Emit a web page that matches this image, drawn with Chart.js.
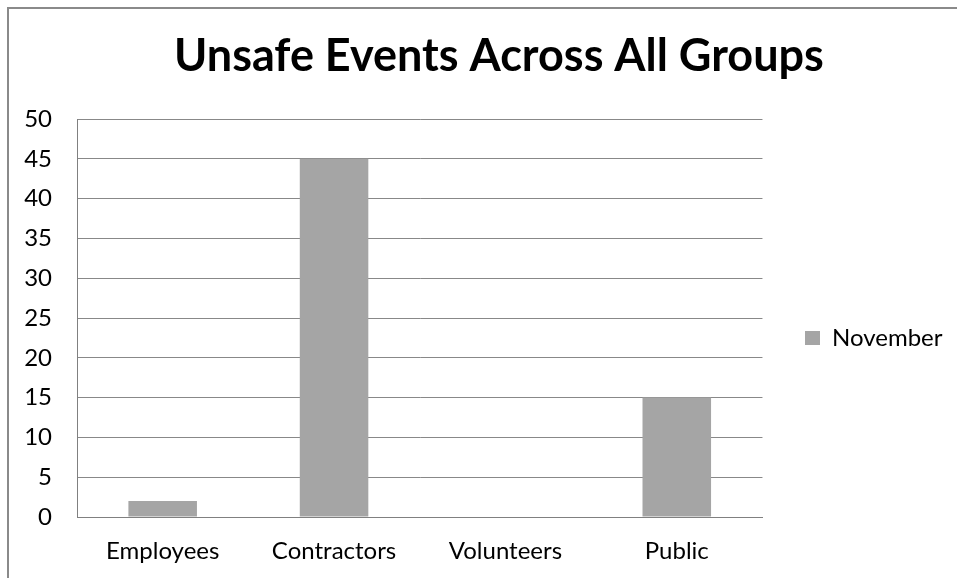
<!DOCTYPE html>
<html>
<head>
<meta charset="utf-8">
<title>Unsafe Events Across All Groups</title>
<script src="https://cdn.jsdelivr.net/npm/chart.js@4/dist/chart.umd.min.js"></script>
<style>
  html, body { margin: 0; padding: 0; background: #fff; overflow: hidden; }
  #frame {
    position: absolute; left: 7px; top: 7px; width: 1000px; height: 620px;
    border-left: 2px solid #8a8a8a; border-top: 2px solid #8a8a8a;
  }
  #wrap { position: absolute; left: 0; top: 0; width: 957px; height: 578px; }
</style>
</head>
<body>
<div id="frame"></div>
<div id="wrap"><canvas id="barChart" width="957" height="578"></canvas></div>
<script>
// Datos de la gráfica
var categories = ["Employees", "Contractors", "Volunteers", "Public"];
var november = [2, 45, 0, 15];
var yMin = 0, yMax = 50, yStep = 5;

var FONT = "Lato";
// el título va centrado en todo el marco (que sigue fuera de la ventana)
var TITLE_CENTER = 499;
var LEGEND_BOX_X = 805;
var LEGEND_SHIFT_Y = 44;

// Mueve título y leyenda después del layout
var shiftBoxes = {
    id: "shiftBoxes",
    afterLayout: function (chart) {
        var t = chart.titleBlock;
        if (t) {
            var tx = TITLE_CENTER - (t.left + t.right) / 2;
            t.left += tx; t.right += tx;
        }
        var l = chart.legend;
        if (l) {
            var dx = LEGEND_BOX_X - (l.left + 10);
            l.left += dx; l.right += dx;
            l.top += LEGEND_SHIFT_Y; l.bottom += LEGEND_SHIFT_Y;
        }
    }
};

var data = {
    labels: categories,
    datasets: [{
        label: "November",
        backgroundColor: "#a5a5a5",
        borderWidth: 0,
        data: november,
        categoryPercentage: 1,
        barPercentage: 0.4
    }]
};

var options = {
    responsive: false,
    animation: false,
    layout: { padding: { left: 10, right: 37, top: 10, bottom: 0 } },
    plugins: {
        title: {
            display: true,
            text: "Unsafe Events Across All Groups",
            color: "#000",
            font: { family: FONT, size: 45, weight: "bold", lineHeight: 1.2 },
            padding: { top: 19, bottom: 36 }
        },
        legend: {
            position: "right",
            labels: {
                color: "#000",
                boxWidth: 15,
                boxHeight: 14,
                padding: 10,
                font: { family: FONT, size: 24 }
            }
        },
        tooltip: { enabled: false }
    },
    scales: {
        x: {
            grid: { display: false, drawTicks: false },
            border: { display: true, color: "#808080", width: 1 },
            ticks: { color: "#000", padding: 20, maxRotation: 0, font: { family: FONT, size: 24 } },
            afterFit: function (scale) { scale.height = 61; }
        },
        y: {
            min: yMin,
            max: yMax,
            grid: { color: "#888888", lineWidth: 1, drawTicks: false },
            border: { display: true, color: "#808080", width: 1 },
            ticks: { stepSize: yStep, color: "#000", padding: 25, font: { family: FONT, size: 24 } },
            afterFit: function (scale) { scale.width = 67; }
        }
    }
};

var ctx = document.getElementById("barChart").getContext("2d");
var chart = new Chart(ctx, {
    type: "bar",
    data: data,
    options: options,
    plugins: [shiftBoxes]
});
</script>
</body>
</html>
